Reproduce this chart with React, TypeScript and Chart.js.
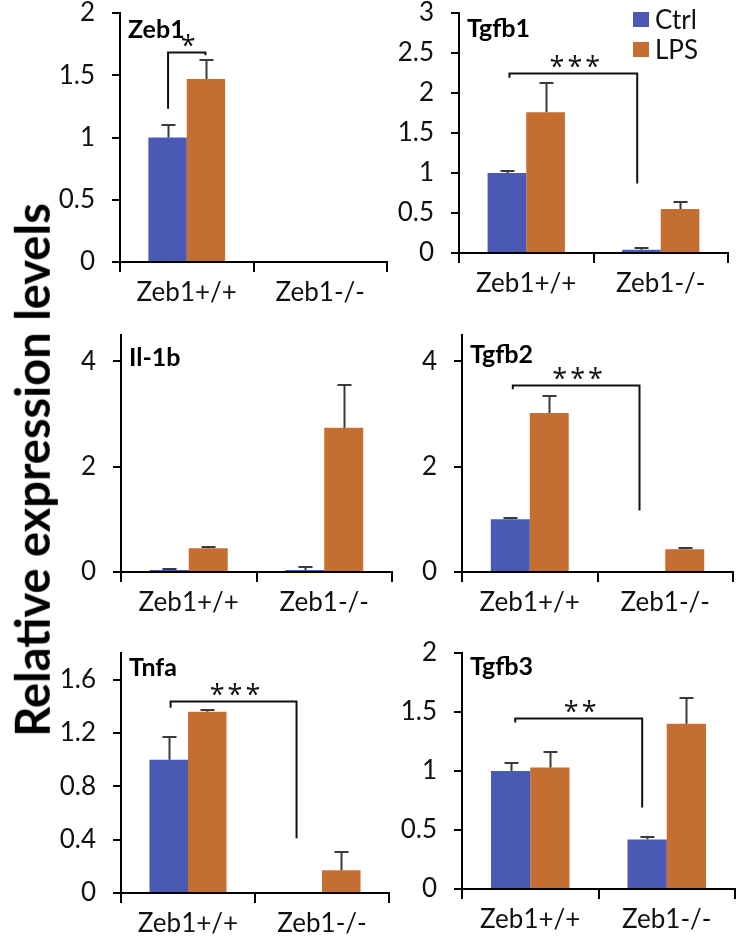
import React, { useEffect, useRef } from 'react';
import { Chart, registerables } from 'chart.js';

Chart.register(...registerables);

// ---------- data ----------
const categories = ['Zeb1+/+', 'Zeb1-/-'];
const seriesLabels = ['Ctrl', 'LPS'];
const seriesColors = ['#4A59B4', '#C46E32'];
const yAxisTitle = 'Relative expression levels';

// Zeb1
const zeb1Ticks = [0, 0.5, 1, 1.5, 2];
const zeb1Ctrl = [1.0, null];
const zeb1CtrlErr = [0.1, null];
const zeb1Lps = [1.47, null];
const zeb1LpsErr = [0.15, null];

// Tgfb1
const tgfb1Ticks = [0, 0.5, 1, 1.5, 2, 2.5, 3];
const tgfb1Ctrl = [1.0, 0.04];
const tgfb1CtrlErr = [0.03, 0.02];
const tgfb1Lps = [1.76, 0.55];
const tgfb1LpsErr = [0.36, 0.09];

// Il-1b
const il1bTicks = [0, 2, 4];
const il1bCtrl = [0.04, 0.04];
const il1bCtrlErr = [0.02, 0.06];
const il1bLps = [0.45, 2.74];
const il1bLpsErr = [0.02, 0.81];

// Tgfb2
const tgfb2Ticks = [0, 2, 4];
const tgfb2Ctrl = [1.0, 0];
const tgfb2CtrlErr = [0.02, 0];
const tgfb2Lps = [3.02, 0.43];
const tgfb2LpsErr = [0.32, 0.02];

// Tnfa
const tnfaTicks = [0, 0.4, 0.8, 1.2, 1.6];
const tnfaCtrl = [1.0, 0];
const tnfaCtrlErr = [0.17, 0];
const tnfaLps = [1.36, 0.17];
const tnfaLpsErr = [0.01, 0.14];

// Tgfb3
const tgfb3Ticks = [0, 0.5, 1, 1.5, 2];
const tgfb3Ctrl = [1.0, 0.42];
const tgfb3CtrlErr = [0.07, 0.02];
const tgfb3Lps = [1.03, 1.4];
const tgfb3LpsErr = [0.13, 0.22];

// significance brackets (x in category units, y in data units)
const zeb1Sig = { label: '*', from: -0.14, to: 0.14, level: 1.69, fromEnd: 1.23, toEnd: 1.66 };
const tgfb1Sig = { label: '***', from: -0.125, to: 0.825, level: 2.25, fromEnd: 2.19, toEnd: 0.87 };
const tgfb2Sig = { label: '***', from: -0.125, to: 0.81, level: 3.56, fromEnd: 3.47, toEnd: 1.17 };
const tnfaSig = { label: '***', from: -0.13, to: 0.81, level: 1.44, fromEnd: 1.39, toEnd: 0.41 };
const tgfb3Sig = { label: '**', from: -0.11, to: 0.82, level: 1.45, fromEnd: 1.41, toEnd: 0.69 };

// ---------- layout / style ----------
const FONT = 'Lato, "Open Sans", sans-serif';
const Y_W = 70;
const X_H = 52;
const PAD_T = 16;
const PAD_R = 4;

type Panel = {
  title: string;
  ticks: number[];
  yMax: number;
  ctrl: (number | null)[];
  ctrlErr: (number | null)[];
  lps: (number | null)[];
  lpsErr: (number | null)[];
  sig: any;
  legend: boolean;
  box: { axisX: number; top: number; bottom: number; right: number };
  titleDy: number;
};

const panels: Panel[] = [
  { title: 'Zeb1', ticks: zeb1Ticks, yMax: 2, ctrl: zeb1Ctrl, ctrlErr: zeb1CtrlErr, lps: zeb1Lps, lpsErr: zeb1LpsErr, sig: zeb1Sig, legend: false,
    box: { axisX: 120, top: 13, bottom: 262, right: 387 }, titleDy: 17 },
  { title: 'Tgfb1', ticks: tgfb1Ticks, yMax: 3, ctrl: tgfb1Ctrl, ctrlErr: tgfb1CtrlErr, lps: tgfb1Lps, lpsErr: tgfb1LpsErr, sig: tgfb1Sig, legend: true,
    box: { axisX: 459, top: 13, bottom: 253, right: 728 }, titleDy: 16 },
  { title: 'Il-1b', ticks: il1bTicks, yMax: 4.5, ctrl: il1bCtrl, ctrlErr: il1bCtrlErr, lps: il1bLps, lpsErr: il1bLpsErr, sig: null, legend: false,
    box: { axisX: 121, top: 335, bottom: 572, right: 392 }, titleDy: 23 },
  { title: 'Tgfb2', ticks: tgfb2Ticks, yMax: 4.5, ctrl: tgfb2Ctrl, ctrlErr: tgfb2CtrlErr, lps: tgfb2Lps, lpsErr: tgfb2LpsErr, sig: tgfb2Sig, legend: false,
    box: { axisX: 462, top: 335, bottom: 572, right: 733 }, titleDy: 20 },
  { title: 'Tnfa', ticks: tnfaTicks, yMax: 1.8, ctrl: tnfaCtrl, ctrlErr: tnfaCtrlErr, lps: tnfaLps, lpsErr: tnfaLpsErr, sig: tnfaSig, legend: false,
    box: { axisX: 121, top: 653, bottom: 893, right: 389 }, titleDy: 15 },
  { title: 'Tgfb3', ticks: tgfb3Ticks, yMax: 2, ctrl: tgfb3Ctrl, ctrlErr: tgfb3CtrlErr, lps: tgfb3Lps, lpsErr: tgfb3LpsErr, sig: tgfb3Sig, legend: false,
    box: { axisX: 462, top: 653, bottom: 889, right: 735 }, titleDy: 14 },
];

function makeDecor(p: Panel) {
  return {
    id: 'decor_' + p.title,
    afterDatasetsDraw(chart: any) {
      const ctx = chart.ctx;
      const xs = chart.scales.x;
      const ys = chart.scales.y;
      const area = chart.chartArea;
      const errs = [p.ctrlErr, p.lpsErr];
      ctx.save();
      // error bars
      ctx.strokeStyle = '#3a3a3a';
      ctx.lineWidth = 2;
      chart.data.datasets.forEach((ds: any, di: number) => {
        const meta = chart.getDatasetMeta(di);
        meta.data.forEach((el: any, i: number) => {
          const v = ds.data[i];
          const e = errs[di][i];
          if (v == null || !e) return;
          const yTop = Math.round(ys.getPixelForValue(v + e));
          const x = Math.round(el.x) + 0.5;
          ctx.beginPath();
          ctx.moveTo(x, el.y);
          ctx.lineTo(x, yTop);
          ctx.moveTo(x - 7, yTop);
          ctx.lineTo(x + 7, yTop);
          ctx.stroke();
        });
      });
      // significance bracket
      if (p.sig) {
        const s = p.sig;
        const x1 = xs.getPixelForValue(s.from);
        const x2 = xs.getPixelForValue(s.to);
        const yl = Math.round(ys.getPixelForValue(s.level)) + 0.5;
        ctx.strokeStyle = '#111';
        ctx.lineWidth = 2;
        ctx.beginPath();
        ctx.moveTo(x1, ys.getPixelForValue(s.fromEnd));
        ctx.lineTo(x1, yl);
        ctx.lineTo(x2, yl);
        ctx.lineTo(x2, ys.getPixelForValue(s.toEnd));
        ctx.stroke();
        ctx.fillStyle = '#111';
        ctx.font = '27px "Open Sans", ' + FONT;
        ctx.textAlign = 'center';
        ctx.textBaseline = 'alphabetic';
        try { (ctx as any).letterSpacing = '3px'; } catch (e) {}
        ctx.fillText(s.label, (x1 + x2) / 2 + 3, yl + 2);
        try { (ctx as any).letterSpacing = '0px'; } catch (e) {}
      }
      // title
      ctx.fillStyle = '#000';
      ctx.font = 'bold 25px ' + FONT;
      ctx.textAlign = 'left';
      ctx.textBaseline = 'middle';
      ctx.fillText(p.title, area.left + 8, area.top + p.titleDy);
      // legend
      if (p.legend) {
        ctx.font = '26px ' + FONT;
        ctx.textBaseline = 'middle';
        chart.data.datasets.forEach((ds: any, di: number) => {
          const bx = area.right - 95;
          const by = area.top - 1 + di * 30;
          ctx.fillStyle = ds.backgroundColor;
          ctx.fillRect(bx, by, 16, 15);
          ctx.fillStyle = '#111';
          ctx.fillText(ds.label, bx + 22, by + 9);
        });
      }
      ctx.restore();
    },
  };
}

function PanelChart({ p }: { p: Panel }) {
  const ref = useRef<HTMLCanvasElement>(null);
  const width = p.box.right - p.box.axisX + Y_W + PAD_R;
  const height = p.box.bottom - p.box.top + PAD_T + X_H;
  useEffect(() => {
    const chart = new Chart(ref.current as HTMLCanvasElement, {
      type: 'bar',
      data: {
        labels: categories,
        datasets: [
          { label: seriesLabels[0], data: p.ctrl as any, backgroundColor: seriesColors[0], borderWidth: 0 },
          { label: seriesLabels[1], data: p.lps as any, backgroundColor: seriesColors[1], borderWidth: 0 },
        ],
      },
      options: {
        responsive: false,
        animation: false,
        events: [],
        layout: { padding: { top: PAD_T, right: PAD_R, left: 0, bottom: 0 } },
        datasets: { bar: { categoryPercentage: 0.575, barPercentage: 1 } },
        plugins: { legend: { display: false }, tooltip: { enabled: false }, title: { display: false } },
        scales: {
          x: {
            grid: { offset: true, drawOnChartArea: false, drawTicks: true, tickLength: 10, color: '#000', lineWidth: 2 },
            border: { display: true, color: '#000', width: 2 },
            ticks: { font: { family: FONT, size: 26 }, color: '#111', padding: 5 },
            afterFit: (s: any) => { s.height = X_H; s.paddingLeft = 0; s.paddingRight = 0; },
          },
          y: {
            min: 0,
            max: p.yMax,
            grid: { drawOnChartArea: false, drawTicks: true, tickLength: 8, color: '#000', lineWidth: 2 },
            border: { display: true, color: '#000', width: 2 },
            ticks: { font: { family: FONT, size: 26 }, color: '#111', padding: 17, callback: (v: any) => String(v) },
            afterBuildTicks: (s: any) => { s.ticks = p.ticks.map((v) => ({ value: v })); },
            afterFit: (s: any) => { s.width = Y_W; s.paddingTop = 0; s.paddingBottom = 0; },
          },
        },
      },
      plugins: [makeDecor(p)],
    } as any);
    return () => chart.destroy();
  }, []);
  return (
    <canvas
      ref={ref}
      width={width}
      height={height}
      style={{ position: 'absolute', left: p.box.axisX - Y_W, top: p.box.top - PAD_T, width, height }}
    />
  );
}

export default function App() {
  return (
    <div style={{ position: 'absolute', left: 0, top: 0, width: 736, height: 947, background: '#fff', overflow: 'hidden' }}>
      {panels.map((p) => (
        <PanelChart key={p.title} p={p} />
      ))}
      <div
        style={{
          position: 'absolute',
          left: 32,
          top: 470,
          transform: 'translate(-50%, -50%) rotate(-90deg)',
          whiteSpace: 'nowrap',
          fontFamily: FONT,
          fontWeight: 'bold',
          fontSize: 47,
          lineHeight: 1.2,
          color: '#000',
        }}
      >
        {yAxisTitle}
      </div>
    </div>
  );
}
